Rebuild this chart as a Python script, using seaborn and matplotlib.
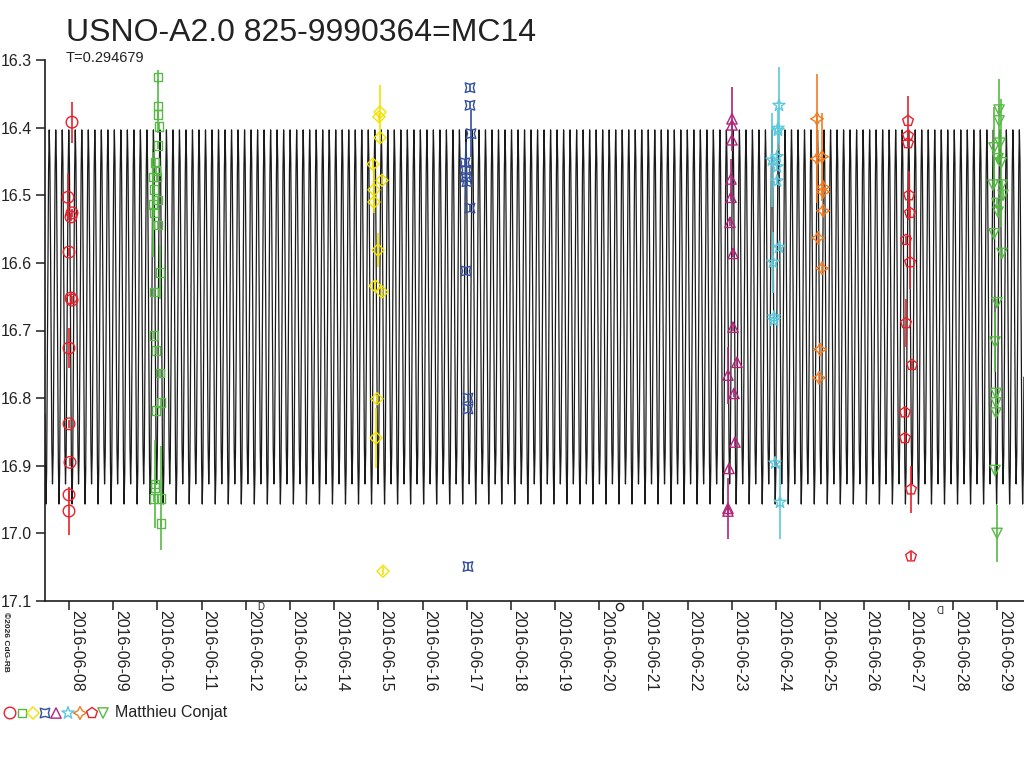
import numpy as np
import pandas as pd
import seaborn as sns
import matplotlib
matplotlib.use("Agg")
import matplotlib.pyplot as plt
import matplotlib.dates as mdates

title = "USNO-A2.0 825-9990364=MC14"
period = 0.294679
observer = "Matthieu Conjat"
copyright_txt = "\u00a92026 CdG-RB"

# one cycle of the model light curve (phase 0 = primary minimum)
phase_pts = [0.00, 0.05, 0.10, 0.15, 0.20, 0.25, 0.30, 0.35, 0.40, 0.45, 0.50,
             0.55, 0.60, 0.65, 0.70, 0.75, 0.80, 0.85, 0.90, 0.95, 1.00]
phase_mag = [16.960, 16.905, 16.760, 16.590, 16.455, 16.400, 16.455, 16.585, 16.745, 16.880, 16.930,
             16.880, 16.745, 16.585, 16.455, 16.400, 16.455, 16.590, 16.760, 16.905, 16.960]
epoch_day = 7.48          # day of June 2016 of a primary minimum
x_first, x_last = 7.457, 29.611   # plotted span, days of June 2016

# observations: day of June 2016, magnitude, error -- one block per series
circ_day = [8.068, 7.977, 8.068, 8.045, 8.000, 8.045, 8.068, 8.000, 8.000, 8.023, 8.000, 8.000]
circ_mag = [16.392, 16.503, 16.526, 16.532, 16.584, 16.652, 16.655, 16.726, 16.838, 16.895, 16.943, 16.967]
circ_err = [0.030, 0.034, 0.006, 0.006, 0.006, 0.008, 0.006, 0.030, 0.006, 0.006, 0.006, 0.036]

sq_day = [10.014, 10.014, 10.014, 10.037, 10.014, 9.946, 9.969, 9.991, 9.901, 9.923, 9.901, 10.014, 9.923,
          10.014, 10.059, 9.923, 9.923, 9.969, 10.059, 10.082, 9.969, 9.946, 9.946, 9.923, 10.082, 10.082]
sq_mag = [16.325, 16.368, 16.381, 16.398, 16.426, 16.452, 16.463, 16.473, 16.473, 16.492, 16.514, 16.507, 16.525,
          16.544, 16.614, 16.643, 16.707, 16.729, 16.763, 16.807, 16.818, 16.927, 16.932, 16.948, 16.948, 16.985]
sq_err = [0.010, 0.040, 0.006, 0.006, 0.006, 0.006, 0.006, 0.006, 0.006, 0.006, 0.078, 0.006, 0.006,
          0.006, 0.040, 0.006, 0.006, 0.006, 0.006, 0.006, 0.006, 0.065, 0.006, 0.006, 0.077, 0.006]

dia_day = [15.038, 15.015, 15.038, 14.879, 15.083, 14.902, 14.902, 14.993, 14.925, 15.083, 14.970, 14.947, 15.106]
dia_mag = [16.377, 16.384, 16.415, 16.454, 16.478, 16.492, 16.510, 16.581, 16.634, 16.643, 16.801, 16.859, 17.056]
dia_err = [0.040, 0.006, 0.006, 0.006, 0.006, 0.034, 0.006, 0.025, 0.006, 0.006, 0.006, 0.045, 0.006]

quad_day = [17.074, 17.074, 17.097, 16.961, 16.984, 16.984, 17.006, 17.074, 16.984, 17.029, 17.029, 17.029]
quad_mag = [16.341, 16.367, 16.409, 16.452, 16.463, 16.473, 16.480, 16.519, 16.612, 16.800, 16.816, 17.049]
quad_err = [0.006, 0.006, 0.035, 0.006, 0.042, 0.006, 0.006, 0.006, 0.006, 0.006, 0.006, 0.006]

tri_day = [23.003, 23.003, 23.003, 22.980, 22.980, 22.957, 23.026, 23.026, 23.116, 22.912, 23.048, 23.071,
           22.935, 22.912, 22.912]
tri_mag = [16.387, 16.396, 16.418, 16.476, 16.503, 16.540, 16.586, 16.695, 16.747, 16.766, 16.793, 16.865,
           16.904, 16.963, 16.967]
tri_err = [0.047, 0.006, 0.006, 0.030, 0.006, 0.006, 0.006, 0.006, 0.006, 0.042, 0.006, 0.006,
           0.006, 0.045, 0.006]

star_day = [24.067, 24.044, 24.044, 24.022, 23.909, 24.022, 24.022, 24.067, 23.931, 23.954, 23.954, 23.977, 24.090]
star_mag = [16.367, 16.401, 16.404, 16.443, 16.448, 16.458, 16.479, 16.577, 16.599, 16.680, 16.685, 16.896, 16.954]
star_err = [0.057, 0.006, 0.030, 0.006, 0.070, 0.006, 0.006, 0.006, 0.045, 0.006, 0.006, 0.006, 0.055]

cross_day = [24.927, 24.927, 25.040, 25.063, 25.063, 25.063, 24.950, 25.040, 24.995, 24.973]
cross_mag = [16.387, 16.446, 16.443, 16.488, 16.495, 16.523, 16.563, 16.608, 16.728, 16.770]
cross_err = [0.066, 0.066, 0.065, 0.006, 0.006, 0.006, 0.006, 0.006, 0.006, 0.006]

pent_day = [26.986, 26.986, 26.986, 27.009, 27.031, 26.941, 27.031, 26.941, 27.077, 26.918, 26.918, 27.054, 27.054]
pent_mag = [16.390, 16.412, 16.423, 16.500, 16.526, 16.566, 16.599, 16.689, 16.751, 16.821, 16.859, 16.935, 17.034]
pent_err = [0.037, 0.006, 0.006, 0.036, 0.006, 0.006, 0.040, 0.035, 0.006, 0.006, 0.006, 0.035, 0.006]

vee_day = [29.046, 29.046, 28.932, 29.068, 29.023, 29.091, 28.910, 29.113, 29.136, 29.000, 29.023, 28.932,
           29.113, 29.000, 28.955, 28.977, 28.977, 28.977, 28.955, 29.000]
vee_mag = [16.374, 16.390, 16.430, 16.423, 16.446, 16.452, 16.485, 16.485, 16.500, 16.512, 16.525, 16.557,
           16.586, 16.659, 16.717, 16.793, 16.807, 16.822, 16.907, 17.000]
vee_err = [0.006, 0.062, 0.060, 0.006, 0.006, 0.095, 0.006, 0.006, 0.006, 0.006, 0.006, 0.006,
           0.006, 0.006, 0.045, 0.006, 0.006, 0.006, 0.006, 0.042]

# moon phases shown under the axis (day of June 2016)
moon_first_q = 12.345
moon_full = 20.47
moon_last_q = 27.71

series = [
    (circ_day, circ_mag, circ_err, "#e8202a", "o", 70),
    (sq_day, sq_mag, sq_err, "#58b947", "s", 40),
    (dia_day, dia_mag, dia_err, "#f2e200", "D", 38),
    (quad_day, quad_mag, quad_err, "#3450a0", (4, 1, 45), 95),
    (tri_day, tri_mag, tri_err, "#b0247a", "^", 55),
    (star_day, star_mag, star_err, "#5ec8dc", "*", 85),
    (cross_day, cross_mag, cross_err, "#f07c22", (4, 1, 0), 85),
    (pent_day, pent_mag, pent_err, "#e8202a", "p", 65),
    (vee_day, vee_mag, vee_err, "#58b947", "v", 55),
]

june0 = pd.Timestamp("2016-06-01")


def to_date(days):
    return june0 + pd.to_timedelta(np.asarray(days) - 1.0, unit="D")


sns.set_style("ticks")
plt.rcParams["font.family"] = ["Liberation Sans", "DejaVu Sans"]

fig = plt.figure(figsize=(10.24, 7.68), dpi=100)
ax = fig.add_axes([45 / 1024, 1 - 601 / 768, 1 - 45 / 1024, (601 - 60) / 768])

# model light curve
curve_day = np.arange(x_first, x_last, period / 40)
curve_phase = ((curve_day - epoch_day) / period) % 1.0
curve_mag = np.interp(curve_phase, phase_pts, phase_mag)
sns.lineplot(x=to_date(curve_day), y=curve_mag, sort=False, estimator=None,
             color="#1a1a1a", lw=0.9, ax=ax, zorder=1)

for d, m, e, c, mk, s in series:
    dd = to_date(d)
    ax.errorbar(dd, m, yerr=e, fmt="none", ecolor=c, elinewidth=1.2, capsize=0, zorder=2)
    sns.scatterplot(x=dd, y=m, marker=mk, s=s, color=c, facecolor="none",
                    edgecolor=c, linewidth=1.0, ax=ax, zorder=3)

ax.set_xlim(to_date([x_first])[0], to_date([x_last])[0])
ax.set_ylim(17.1, 16.3)
ax.set_yticks([16.3, 16.4, 16.5, 16.6, 16.7, 16.8, 16.9, 17.0, 17.1])
ax.yaxis.set_major_formatter(matplotlib.ticker.FormatStrFormatter("%.1f"))
ax.xaxis.set_major_locator(mdates.DayLocator())
ax.xaxis.set_major_formatter(mdates.DateFormatter("%Y-%m-%d"))
ax.set_xlabel("")
ax.set_ylabel("")
for side in ["top", "right"]:
    ax.spines[side].set_visible(False)
for side in ["left", "bottom"]:
    ax.spines[side].set_color("#1e1e1e")
    ax.spines[side].set_linewidth(1.2)
ax.tick_params(axis="both", direction="out", length=6.5, width=1.1, color="#1e1e1e",
               labelsize=11.5, labelcolor="#222222")
ax.tick_params(axis="y", pad=3)
ax.tick_params(axis="x", pad=0, labelrotation=270)
for lab in ax.get_xticklabels():
    lab.set_ha("left")
    lab.set_va("top")

# moon phase symbols
yb = 17.109
ax.text(mdates.date2num(to_date([moon_first_q])[0]), yb, "D", fontsize=7, ha="center", va="center",
        clip_on=False, color="#222222")
ax.text(mdates.date2num(to_date([moon_last_q])[0]), yb, "D", fontsize=7, ha="center", va="center",
        rotation=180, clip_on=False, color="#222222")
ax.scatter([to_date([moon_full])[0]], [yb], marker="o", s=28, facecolor="none", edgecolor="#222222",
           linewidth=1, clip_on=False)

# titles and footer in pixel coordinates
over = fig.add_axes([0, 0, 1, 1])
over.set_xlim(0, 1024)
over.set_ylim(768, 0)
over.axis("off")
over.patch.set_alpha(0)
over.text(66, 41, title, fontsize=23, color="#222222", ha="left", va="baseline")
over.text(66, 62, "T=0.294679", fontsize=10.5, color="#222222", ha="left", va="baseline")
over.text(5, 612, copyright_txt, fontsize=6, fontweight="bold", rotation=270, ha="center", va="top",
          color="#222222")

leg_x = [10, 22, 33, 45, 56, 68, 80, 92, 103]
for lx, (d, m, e, c, mk, s) in zip(leg_x, series):
    over.scatter([lx], [713], marker=mk, s=s, facecolor="none", edgecolor=c, linewidth=1.0)
over.text(115, 713, observer, fontsize=11.5, color="#222222", ha="left", va="center")

fig.savefig("out.png", dpi=100)
